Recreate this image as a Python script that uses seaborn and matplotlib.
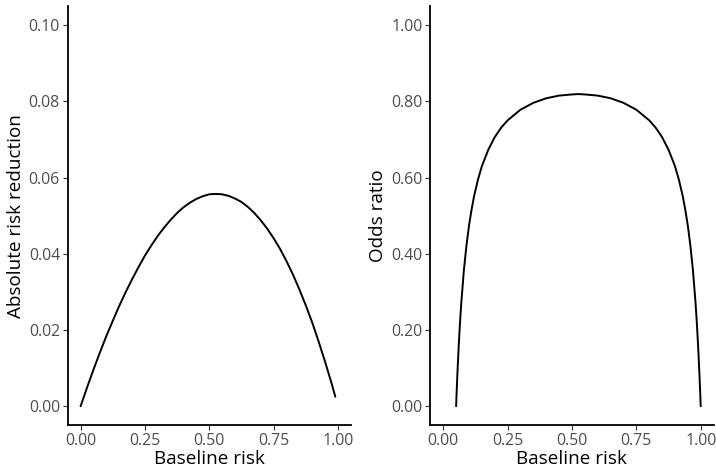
#!/usr/bin/env python3
"""Absolute risk reduction and odds ratio plotted against baseline risk, side by side."""

import pandas as pd
import matplotlib
matplotlib.use("Agg")
import matplotlib.pyplot as plt
import seaborn as sns

# ─────────────── Data ───────────────
arr_baseline = [0.000, 0.025, 0.050, 0.075, 0.100, 0.125, 0.150, 0.175, 0.200,
                0.225, 0.250, 0.275, 0.300, 0.325, 0.350, 0.375, 0.400, 0.425,
                0.450, 0.475, 0.500, 0.525, 0.550, 0.575, 0.600, 0.625, 0.650,
                0.675, 0.700, 0.725, 0.750, 0.775, 0.800, 0.825, 0.850, 0.875,
                0.900, 0.925, 0.950, 0.975, 0.990]
arr_values = [0.0000, 0.0049, 0.0096, 0.0141, 0.0184, 0.0224, 0.0263, 0.0299,
              0.0333, 0.0365, 0.0395, 0.0422, 0.0447, 0.0469, 0.0489, 0.0507,
              0.0522, 0.0534, 0.0544, 0.0551, 0.0556, 0.0557, 0.0556, 0.0552,
              0.0545, 0.0536, 0.0523, 0.0507, 0.0488, 0.0466, 0.0441, 0.0413,
              0.0381, 0.0346, 0.0307, 0.0265, 0.0220, 0.0170, 0.0117, 0.0061,
              0.0025]

or_baseline = [0.050, 0.052, 0.055, 0.060, 0.065, 0.070, 0.080, 0.090, 0.100,
               0.110, 0.120, 0.135, 0.150, 0.175, 0.200, 0.225, 0.250, 0.300,
               0.350, 0.400, 0.450, 0.500, 0.525, 0.550, 0.600, 0.650, 0.700,
               0.750, 0.800, 0.825, 0.850, 0.875, 0.900, 0.915, 0.930, 0.940,
               0.950, 0.960, 0.970, 0.980, 0.985, 0.990, 0.995, 0.998, 1.000]
or_values = [0.000, 0.037, 0.086, 0.158, 0.219, 0.271, 0.356, 0.421, 0.474,
             0.516, 0.552, 0.595, 0.630, 0.673, 0.706, 0.731, 0.750, 0.778,
             0.796, 0.808, 0.815, 0.818, 0.819, 0.818, 0.815, 0.808, 0.796,
             0.778, 0.750, 0.731, 0.706, 0.673, 0.630, 0.595, 0.552, 0.516,
             0.474, 0.421, 0.356, 0.271, 0.219, 0.158, 0.086, 0.037, 0.000]

arr_ticks = [0.00, 0.02, 0.04, 0.06, 0.08, 0.10]
or_ticks = [0.00, 0.20, 0.40, 0.60, 0.80, 1.00]
x_ticks = [0.00, 0.25, 0.50, 0.75, 1.00]

df_arr = pd.DataFrame({"baseline": arr_baseline, "value": arr_values})
df_or = pd.DataFrame({"baseline": or_baseline, "value": or_values})

# ─────────────── Style ───────────────
sns.set_style("ticks")
plt.rcParams["font.family"] = ["Open Sans", "DejaVu Sans"]

fig = plt.figure(figsize=(7.16, 4.70), dpi=100)
ax_left = fig.add_axes([0.0946, 0.0951, 0.3953, 0.8921])
ax_right = fig.add_axes([0.6011, 0.0951, 0.3955, 0.8921])

panels = [
    (ax_left, df_arr, arr_ticks, "Absolute risk reduction", (-0.005, 0.105)),
    (ax_right, df_or, or_ticks, "Odds ratio", (-0.05, 1.05)),
]

for ax, data, yticks, ylabel, ylim in panels:
    sns.lineplot(data=data, x="baseline", y="value", ax=ax,
                 color="black", linewidth=1.4, sort=False)
    ax.set_xlim(-0.05, 1.05)
    ax.set_ylim(*ylim)
    ax.set_xticks(x_ticks)
    ax.set_xticklabels([f"{t:.2f}" for t in x_ticks])
    ax.set_yticks(yticks)
    ax.set_yticklabels([f"{t:.2f}" for t in yticks])
    ax.set_xlabel("Baseline risk", fontsize=13.6, color="black", labelpad=1)
    ax.set_ylabel(ylabel, fontsize=13.6, color="black", labelpad=3)
    ax.tick_params(axis="both", labelsize=11.4, labelcolor="#4D4D4D",
                   color="#333333", length=3.6, width=0.8, pad=2)
    sns.despine(ax=ax)
    for side in ("left", "bottom"):
        ax.spines[side].set_linewidth(1.3)
        ax.spines[side].set_color("black")

fig.savefig("out.png", dpi=100, facecolor="white")
